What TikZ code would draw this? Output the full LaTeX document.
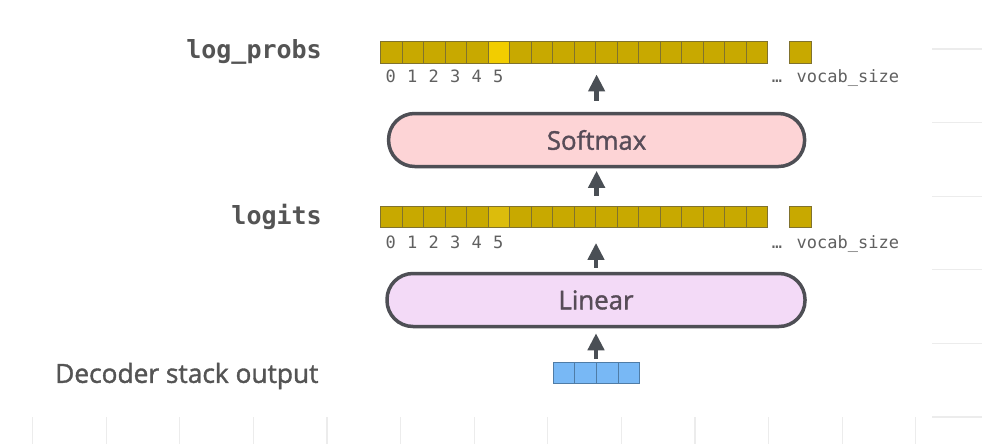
\documentclass[tikz,border=0pt]{standalone}
\usepackage{fontspec}
\setmainfont{Open Sans}
\newfontfamily\semib[FakeBold=1.4]{Open Sans}
\newfontfamily\monofont{DejaVu Sans Mono}
\usetikzlibrary{arrows.meta}
\definecolor{gold}{HTML}{C8A900}
\definecolor{goldhi}{HTML}{F2CD00}
\definecolor{goldmid}{HTML}{DCBC0C}
\definecolor{cellline}{HTML}{80722E}
\definecolor{bluefill}{HTML}{78B8F5}
\definecolor{blueline}{HTML}{4F7CA6}
\definecolor{pinkfill}{HTML}{FDD4D6}
\definecolor{lavfill}{HTML}{F3DAF7}
\definecolor{boxline}{HTML}{4E4F55}
\definecolor{arrcol}{HTML}{4A4F55}
\definecolor{txt}{HTML}{545454}
\definecolor{boxtxt}{HTML}{574C58}
\definecolor{digtxt}{HTML}{606060}
\definecolor{gridcol}{HTML}{ECECEC}
\tikzset{
  cell/.style={draw=cellline, fill=gold, line width=0.8pt, minimum width=21.6pt, minimum height=21.6pt, inner sep=0pt, anchor=north west},
  bcell/.style={draw=blueline, fill=bluefill, line width=0.8pt, minimum width=21.65pt, minimum height=21.6pt, inner sep=0pt, anchor=north west},
  pill/.style={draw=boxline, line width=3.5pt, rounded corners=26pt, minimum width=416pt, minimum height=53pt, inner sep=0pt, text=boxtxt, font=\semib\fontsize{25.8}{30}\selectfont},
  arr/.style={draw=arrcol, line width=4.5pt, -{Triangle[width=16pt,length=17pt]}},
  dig/.style={text=digtxt, font=\monofont\fontsize{17}{20}\selectfont, inner sep=0pt, anchor=base},
  lbl/.style={text=txt, font=\monofont\bfseries\fontsize{25}{28}\selectfont, inner sep=0pt, anchor=east},
  gridline/.style={draw=gridcol, line width=1.2pt}
}
\begin{document}
\begin{tikzpicture}[x=1pt,y=-1pt]
\useasboundingbox (0,0) rectangle (982,444);
\fill[white] (0,0) rectangle (982,444);
% background grid
\foreach \k in {0,...,5} \draw[gridline] (932,49+73.6*\k) -- (982,49+73.6*\k);
\foreach \k in {0,...,12} \draw[gridline] (32.6+73.6*\k,417) -- (32.6+73.6*\k,444);
% log_probs row
\foreach \i in {0,...,17} \node[cell] (lp\i) at (380+21.5*\i,41) {};
\node[cell, fill=goldhi] (lp5h) at (380+21.5*5,41) {};
\node[cell] (lpv) at (789,41) {};
\foreach \i in {0,...,5} \node[dig] (lpd\i) at (390.8+21.5*\i,82) {\i};
\node[dig] (lpdots) at (777,82) {…};
\node[dig, anchor=base west] (lpvs) at (796.5,82) {vocab\_size};
\node[lbl] (lplab) at (322,51.5) {log\_probs};
% Softmax
\node[pill, fill=pinkfill] (sm) at (596.6,140) {Softmax};
% logits row
\foreach \i in {0,...,17} \node[cell] (lg\i) at (380+21.5*\i,205.5) {};
\node[cell, fill=goldmid] (lg5h) at (380+21.5*5,205.5) {};
\node[cell] (lgv) at (789,205.5) {};
\foreach \i in {0,...,5} \node[dig] (lgd\i) at (390.8+21.5*\i,248.8) {\i};
\node[dig] (lgdots) at (777,248.8) {…};
\node[dig, anchor=base west] (lgvs) at (796.5,248.8) {vocab\_size};
\node[lbl] (lglab) at (322,216.5) {logits};
% Linear
\node[pill, fill=lavfill, minimum width=418pt] (ln) at (596,300) {Linear};
% decoder output
\foreach \i in {0,...,3} \node[bcell] (d\i) at (552.7+21.65*\i,361.7) {};
\node[text=txt, font=\semib\fontsize{26.3}{30}\selectfont, inner sep=0pt, anchor=west] (declab) at (55,376) {Decoder stack output};
% arrows
\draw[arr, shorten <=11pt, shorten >=11pt] (sm.north) -- (sm.north |- lp0.south);
\draw[arr, shorten <=10pt, shorten >=2.5pt] (sm.south |- lg0.north) -- (sm.south);
\draw[arr, shorten <=4pt, shorten >=15pt] (ln.north) -- (ln.north |- lg0.south);
\draw[arr, shorten <=2.7pt, shorten >=5pt] (ln.south |- d0.north) -- (ln.south);
\end{tikzpicture}
\end{document}
